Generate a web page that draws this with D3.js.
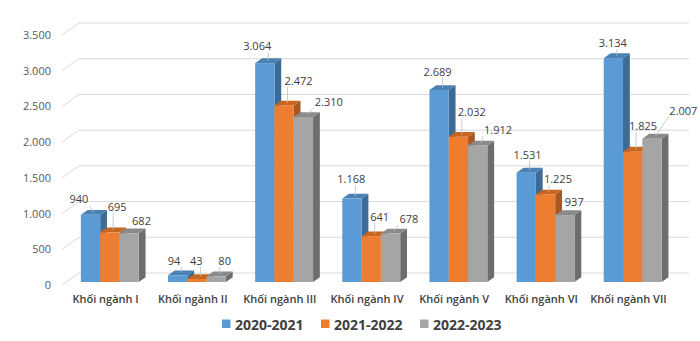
<!DOCTYPE html>
<html>
<head>
<meta charset="utf-8">
<script src="https://cdn.jsdelivr.net/npm/d3@7"></script>
<style>
  html, body { margin: 0; padding: 0; background: #fff; }
  svg { display: block; font-family: "Open Sans", sans-serif; }
</style>
</head>
<body>
<div id="app"></div>
<script>
const categories = ["Khối ngành I", "Khối ngành II", "Khối ngành III", "Khối ngành IV", "Khối ngành V", "Khối ngành VI", "Khối ngành VII"];
const seriesNames = ["2020-2021", "2021-2022", "2022-2023"];
const values2020 = [940, 94, 3064, 1168, 2689, 1531, 3134];
const values2021 = [695, 43, 2472, 641, 2032, 1225, 1825];
const values2022 = [682, 80, 2310, 678, 1912, 937, 2007];
const yTicks = [0, 500, 1000, 1500, 2000, 2500, 3000, 3500];

const width = 700;
const height = 341;

// palette: front, top, side
const colors = [
  { front: "#5b9bd5", top: "#4a80b2", side: "#3c6b96" },
  { front: "#ed7d31", top: "#c8661f", side: "#a95720" },
  { front: "#a5a5a5", top: "#8a8a8a", side: "#6d6d6d" },
];

// hand-placed data label offsets (px) from the top of each bar
const labelShift = [
  [[-15, -13], [-7, -12], [-11, -15], [-4, -17], [-5, -16], [-2, -15], [-4, -13]],
  [[4, -23], [-4, -16], [11, -22], [5, -17], [10, -22], [9, -13], [7, -23]],
  [[9, -10], [5, -13], [22, -13], [15, -12], [17, -13], [6, -11], [28, -25]],
];

const series = [values2020, values2021, values2022].map((vals, s) =>
  vals.map((v, i) => ({ s, i, cat: categories[i], value: v }))
);

const fmt = d3.formatLocale({ decimal: ",", thousands: ".", grouping: [3], currency: ["", ""] }).format(",d");

// 3D wall depth and bar depth
const depth = { dx: 17, dy: -12 };
const barShift = { dx: 4.25, dy: -3 };
const barDepth = { dx: 6.8, dy: -4.8 };
const barWidth = 19.3;

const x = d3.scaleBand().domain(categories).range([62, 672]);
const y = d3.scaleLinear().domain([0, 3500]).range([285, 35]);

const svg = d3.select("#app").append("svg")
  .attr("width", width).attr("height", height)
  .attr("viewBox", `0 0 ${width} ${height}`);

// walls: back gridlines + side wall diagonals
const grid = svg.append("g").attr("stroke", "#d9d9d9").attr("stroke-width", 1);
grid.selectAll("line.back").data(yTicks).join("line")
  .attr("class", "back")
  .attr("x1", x.range()[0] + depth.dx).attr("x2", x.range()[1] + depth.dx)
  .attr("y1", (d) => y(d) + depth.dy).attr("y2", (d) => y(d) + depth.dy);
grid.selectAll("line.side").data(yTicks).join("line")
  .attr("class", "side")
  .attr("x1", x.range()[0]).attr("y1", (d) => y(d))
  .attr("x2", x.range()[0] + depth.dx).attr("y2", (d) => y(d) + depth.dy);

// y tick labels
svg.append("g").selectAll("text").data(yTicks).join("text")
  .attr("x", 51).attr("y", (d) => y(d) + 4)
  .attr("text-anchor", "end")
  .attr("font-size", 11).attr("fill", "#595959")
  .text((d) => fmt(d));

const clusterStart = (cat) => x(cat) + (x.bandwidth() - 3 * barWidth) / 2 + barShift.dx;
const barX = (d) => clusterStart(d.cat) + d.s * barWidth;
const barTop = (d) => y(d.value) + barShift.dy;
const base = y(0) + barShift.dy;

// bars, painted left to right so nearer faces cover the hidden ones
const bars = categories.flatMap((c, i) => series.map((sr) => sr[i]));
const bar = svg.append("g").selectAll("g").data(bars).join("g");
bar.append("path")
  .attr("fill", (d) => colors[d.s].side)
  .attr("d", (d) => {
    const x1 = barX(d) + barWidth, t = barTop(d);
    return `M${x1},${t}L${x1 + barDepth.dx},${t + barDepth.dy}L${x1 + barDepth.dx},${base + barDepth.dy}L${x1},${base}Z`;
  });
bar.append("path")
  .attr("fill", (d) => colors[d.s].top)
  .attr("d", (d) => {
    const x0 = barX(d), t = barTop(d);
    return `M${x0},${t}L${x0 + barWidth},${t}L${x0 + barWidth + barDepth.dx},${t + barDepth.dy}L${x0 + barDepth.dx},${t + barDepth.dy}Z`;
  });
bar.append("rect")
  .attr("fill", (d) => colors[d.s].front)
  .attr("x", (d) => barX(d))
  .attr("y", (d) => barTop(d))
  .attr("width", barWidth)
  .attr("height", (d) => base - barTop(d));

// data labels with leader lines
const anchor = (d) => [barX(d) + barWidth / 2 + barDepth.dx / 2, barTop(d) + barDepth.dy / 2];
const labels = svg.append("g").selectAll("g").data(bars).join("g");
labels.append("text")
  .attr("x", (d) => anchor(d)[0] + labelShift[d.s][d.i][0])
  .attr("y", (d) => anchor(d)[1] + labelShift[d.s][d.i][1] + 4)
  .attr("text-anchor", "middle")
  .attr("font-size", 11).attr("fill", "#404040")
  .text((d) => fmt(d.value))
  .each(function (d) {
    const box = this.getBBox();
    const [ax, ay] = anchor(d);
    const left = box.x - 1, right = box.x + box.width + 1;
    const top = box.y, bottom = box.y + box.height - 1;
    const px = Math.max(left, Math.min(right, ax));
    const py = Math.max(top, Math.min(bottom, ay));
    if (Math.hypot(ax - px, ay - py) > 6) {
      d3.select(this.parentNode).insert("line", "text")
        .attr("x1", px).attr("y1", py).attr("x2", ax).attr("y2", ay)
        .attr("stroke", "#bfbfbf").attr("stroke-width", 0.8);
    }
  });

// category labels
svg.append("g").selectAll("text").data(categories).join("text")
  .attr("x", (d) => x(d) + x.bandwidth() / 2)
  .attr("y", 303)
  .attr("text-anchor", "middle")
  .attr("font-size", 11).attr("font-weight", 600).attr("fill", "#404040")
  .text((d) => d);

// legend
const legendX = [222, 321, 420];
const legend = svg.append("g").selectAll("g").data(seriesNames).join("g")
  .attr("transform", (d, i) => `translate(${legendX[i]}, 324)`);
legend.append("rect")
  .attr("x", 0).attr("y", -4.5).attr("width", 8.5).attr("height", 8.5)
  .attr("fill", (d, i) => colors[i].front);
legend.append("text")
  .attr("x", 13).attr("y", 5.5)
  .attr("font-size", 14).attr("font-weight", 700).attr("fill", "#404040")
  .text((d) => d);
</script>
</body>
</html>
